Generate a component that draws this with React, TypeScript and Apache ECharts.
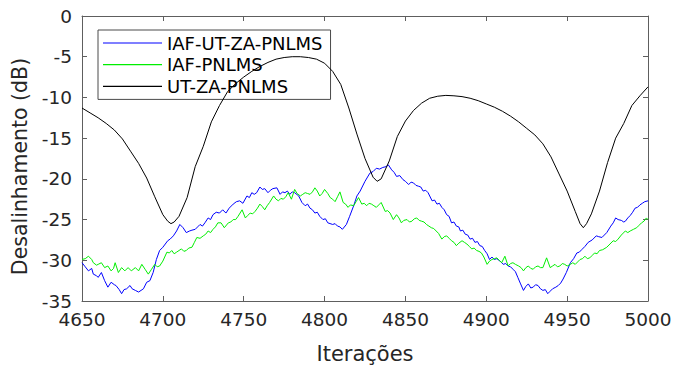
import React, { useEffect, useRef } from "react";
import * as echarts from "echarts";

const FONT = "DejaVu Sans";

const seriesNames = ["IAF-UT-ZA-PNLMS", "IAF-PNLMS", "UT-ZA-PNLMS"];
const xTickMin = 4650;
const xTickMax = 5000;
const xTickStep = 50;
const yTickMin = -35;
const yTickMax = 0;
const yTickStep = 5;

// IAF-UT-ZA-PNLMS (blue): [iteration, dB]
const iafUtZaPnlms: [number, number][] = [
  [4650, -30.3], [4652, -30.8], [4654, -31.3], [4656, -31.0], [4657, -31.7], [4659, -31.9],
  [4660, -32.1], [4662, -31.5], [4664, -32.5], [4666, -33.3], [4668, -32.7], [4670, -33.0],
  [4671, -33.1], [4673, -33.6], [4674.5, -34.1], [4676, -33.6], [4677.6, -33.5], [4679.7, -33.1],
  [4681, -33.5], [4683, -33.7], [4685, -33.9], [4686.5, -33.7], [4688, -33.5], [4690, -32.7],
  [4692, -32.5], [4694, -31.5], [4696, -29.9], [4698, -28.8], [4700, -28.4], [4701.5, -28.0],
  [4703, -27.6], [4704.5, -27.4], [4706.5, -27.0], [4708.5, -26.4], [4710.5, -25.6], [4712.5, -26.0],
  [4714.5, -26.6], [4716.5, -26.4], [4718, -26.3], [4720, -26.2], [4721.5, -25.9], [4723, -25.6],
  [4724.5, -25.8], [4726, -25.4], [4728, -24.8], [4729.5, -25.0], [4731, -24.4], [4733, -24.1],
  [4735, -24.2], [4737, -23.8], [4739, -24.2], [4741, -23.6], [4743.5, -23.1], [4745.5, -22.8],
  [4747.5, -22.7], [4749.5, -23.0], [4752, -22.1], [4753.5, -22.3], [4755, -21.7], [4756.5, -21.9],
  [4758, -21.7], [4760, -21.0], [4761.5, -21.3], [4763, -21.2], [4765, -21.7], [4766.5, -21.4],
  [4768, -21.2], [4770.5, -21.1], [4772.5, -21.9], [4774, -21.6], [4775.5, -21.7], [4777, -21.5],
  [4778.5, -21.9], [4780, -21.6], [4781.5, -21.7], [4784, -22.1], [4786, -22.9], [4788, -23.3],
  [4789.5, -23.1], [4791, -23.6], [4792.5, -23.8], [4794, -24.2], [4795.5, -24.1], [4797, -24.6],
  [4799, -25.0], [4800.5, -24.9], [4802, -25.4], [4805, -25.6], [4806.5, -25.5], [4808, -25.8],
  [4809.5, -25.9], [4811, -26.2], [4813.5, -25.6], [4815.5, -24.6], [4818, -23.3], [4820, -22.1],
  [4822, -21.5], [4825, -20.3], [4828, -19.3], [4830, -19.1], [4832, -18.7], [4834, -18.8],
  [4836, -18.6], [4838, -18.5], [4839.5, -18.3], [4841.5, -18.9], [4843, -19.2], [4844.5, -19.7],
  [4846.5, -19.6], [4848.5, -20.1], [4850, -20.3], [4852, -20.7], [4853.5, -20.4], [4855, -20.5],
  [4856.5, -20.8], [4858, -20.9], [4859.5, -21.0], [4861, -21.5], [4862.5, -21.4], [4864, -21.7],
  [4866.5, -22.7], [4868, -22.6], [4869.5, -23.1], [4871, -23.0], [4872.5, -23.5], [4874, -23.8],
  [4875.5, -24.4], [4877, -24.6], [4878.5, -25.4], [4880, -25.3], [4881.5, -25.8], [4883, -25.9],
  [4884, -26.4], [4885.5, -26.3], [4887, -26.8], [4888.5, -26.9], [4890, -27.4], [4891.5, -27.3],
  [4893, -27.8], [4894.5, -27.7], [4896, -28.2], [4897.5, -28.3], [4899, -28.8], [4900.5, -29.2],
  [4902, -29.9], [4903.5, -29.6], [4905, -29.9], [4906.5, -29.8], [4908.5, -30.1], [4910.5, -30.5],
  [4912, -30.4], [4913.5, -30.7], [4915, -30.8], [4916.5, -31.1], [4918, -31.4], [4919.5, -32.1],
  [4921, -32.8], [4923, -33.7], [4924.5, -33.2], [4926, -32.9], [4927.5, -33.4], [4929, -33.3],
  [4930.5, -33.0], [4932, -33.1], [4933.5, -33.5], [4935, -33.7], [4936.5, -33.6], [4938, -34.1],
  [4939.5, -33.8], [4941, -33.5], [4943, -33.3], [4944.5, -33.1], [4946, -32.8], [4947.5, -32.3],
  [4949.5, -31.5], [4952, -30.3], [4954, -29.8], [4956, -29.1], [4957.5, -29.0], [4959, -28.7],
  [4961, -28.3], [4963, -27.8], [4965.5, -27.5], [4968, -27.0], [4969.5, -27.1], [4971.5, -27.2],
  [4973, -26.9], [4974.5, -26.6], [4977, -25.8], [4978.5, -25.4], [4980, -24.8], [4981.5, -25.0],
  [4983.5, -25.1], [4985, -25.3], [4986, -25.2], [4987.5, -24.8], [4989, -24.5], [4990.5, -24.1],
  [4992, -23.6], [4993.5, -23.5], [4995, -23.2], [4996.5, -23.0], [4998, -22.8], [5000, -22.7],
];

// IAF-PNLMS (green): [iteration, dB]
const iafPnlms: [number, number][] = [
  [4650, -29.9], [4652, -29.8], [4654, -29.5], [4656, -29.9], [4657, -30.3], [4659, -30.6],
  [4660, -30.5], [4662, -30.3], [4664, -30.9], [4666, -30.7], [4668, -31.3], [4669.5, -31.0],
  [4670.5, -30.3], [4672.5, -31.5], [4674.5, -30.9], [4676.5, -31.3], [4678.5, -30.9], [4680.5, -31.3],
  [4683, -30.9], [4685, -31.3], [4687, -30.5], [4689, -31.1], [4691, -31.7], [4693, -31.1],
  [4695, -30.5], [4696.5, -30.8], [4698, -30.7], [4700, -30.1], [4702.5, -29.0], [4704, -29.1],
  [4705.5, -28.8], [4707, -29.2], [4708.5, -29.0], [4710, -28.8], [4711.5, -28.6], [4713, -28.9],
  [4714.5, -28.8], [4716, -28.5], [4718, -28.4], [4719.5, -27.8], [4721, -27.2], [4723, -27.3],
  [4725, -27.0], [4726.5, -26.8], [4728, -26.4], [4729.5, -26.6], [4731, -26.2], [4732.5, -25.9],
  [4734, -25.4], [4736, -25.4], [4738, -26.0], [4740.5, -25.4], [4742, -25.3], [4743.5, -25.0],
  [4745, -25.0], [4746.5, -24.6], [4749, -23.8], [4751, -24.8], [4752.5, -24.5], [4754, -24.2],
  [4755.5, -24.3], [4757, -24.0], [4758.5, -23.6], [4760, -23.1], [4761.5, -23.4], [4763, -23.8],
  [4764.5, -23.3], [4766, -22.9], [4768.5, -22.1], [4770, -22.5], [4771.5, -22.7], [4773, -22.4],
  [4774.5, -22.5], [4776, -22.2], [4777.5, -21.7], [4779.5, -22.5], [4781.5, -21.3], [4783, -21.8],
  [4785, -22.1], [4786.5, -21.9], [4788, -21.7], [4789.5, -21.8], [4791, -21.9], [4792.5, -21.6],
  [4794, -21.1], [4795.5, -21.5], [4797, -22.1], [4798.5, -21.8], [4800, -21.3], [4802, -21.8],
  [4803.5, -22.3], [4805, -22.5], [4806.5, -22.8], [4808, -22.2], [4809.5, -21.6], [4811.5, -22.9],
  [4813, -23.1], [4814.5, -23.5], [4816, -23.2], [4818, -23.3], [4819.5, -22.8], [4821, -22.3],
  [4823, -23.1], [4824.5, -23.0], [4826, -23.3], [4827.5, -23.0], [4829, -23.1], [4830.5, -23.3],
  [4832, -23.5], [4833.5, -23.2], [4835, -22.9], [4837.5, -24.0], [4839, -23.9], [4840.5, -24.2],
  [4842.5, -25.0], [4844.5, -24.4], [4846, -24.8], [4847.5, -25.4], [4849, -25.1], [4851, -25.0],
  [4852.5, -25.3], [4854, -25.2], [4855.5, -24.9], [4857, -24.8], [4858.5, -25.1], [4860, -25.2],
  [4861.5, -25.3], [4863, -25.6], [4864.5, -25.8], [4866, -26.0], [4867.5, -26.1], [4869, -26.4],
  [4870.5, -26.7], [4872.5, -27.4], [4874, -27.1], [4875.5, -27.0], [4877, -27.3], [4878.5, -27.6],
  [4880, -27.8], [4881.5, -28.2], [4883, -27.9], [4885, -27.6], [4886.5, -27.8], [4888, -28.0],
  [4889.5, -28.3], [4891, -28.6], [4892.5, -28.5], [4894, -28.8], [4895.5, -28.9], [4897, -29.1],
  [4898.5, -29.6], [4900.5, -30.5], [4902, -30.1], [4903.5, -29.9], [4905, -29.8], [4906.5, -29.7],
  [4908, -30.0], [4909.5, -30.3], [4911.5, -29.5], [4913.5, -30.7], [4915, -30.4], [4916.5, -30.3],
  [4918, -30.5], [4920, -30.7], [4921.5, -30.9], [4923, -31.3], [4924.5, -30.9], [4926, -30.7],
  [4927.5, -31.0], [4929, -31.1], [4930.5, -30.8], [4932, -30.7], [4933.5, -30.9], [4935, -30.9],
  [4937.3, -29.7], [4939.5, -30.9], [4941, -30.7], [4942.5, -30.5], [4944, -30.8], [4945.5, -30.7],
  [4947, -30.4], [4948.5, -30.5], [4950, -30.7], [4952, -30.5], [4953.5, -30.3], [4955, -30.5],
  [4956.5, -30.2], [4958, -29.9], [4959.5, -29.8], [4961, -29.5], [4962.5, -29.8], [4964, -29.7],
  [4965.5, -29.4], [4967, -29.1], [4968.5, -29.2], [4970, -28.8], [4972, -28.7], [4974.5, -28.4],
  [4976.5, -28.0], [4978.5, -27.6], [4980, -27.7], [4981.5, -27.4], [4983.5, -26.9], [4986, -26.4],
  [4987.5, -26.6], [4989, -26.4], [4991, -26.2], [4993, -26.0], [4994.5, -25.7], [4996, -25.4],
  [4997.5, -25.2], [4999, -24.8], [5000, -25.0],
];

// UT-ZA-PNLMS (black): [iteration, dB]
const utZaPnlms: [number, number][] = [
  [4650, -11.3], [4655, -11.9], [4660, -12.5], [4665, -13.2], [4670, -14.0], [4675, -15.1],
  [4680, -16.6], [4685, -18.1], [4690, -19.9], [4695, -22.2], [4700, -24.4], [4703, -25.2],
  [4705, -25.5], [4707, -25.3], [4710, -24.6], [4715, -22.3], [4720, -18.5], [4725, -16.0],
  [4730, -13.0], [4735, -11.0], [4740, -9.3], [4745, -8.3], [4750, -7.5], [4755, -6.8],
  [4760, -6.2], [4765, -5.7], [4770, -5.3], [4775, -5.1], [4780, -5.0], [4785, -5.0],
  [4790, -5.1], [4795, -5.3], [4800, -5.8], [4805, -6.8], [4810, -8.4], [4815, -11.3],
  [4820, -14.5], [4825, -17.5], [4830, -19.8], [4832.5, -20.3], [4835, -20.0], [4840, -17.8],
  [4845, -14.8], [4850, -12.9], [4855, -11.6], [4860, -10.7], [4865, -10.1], [4870, -9.85],
  [4875, -9.75], [4880, -9.8], [4885, -9.9], [4890, -10.1], [4895, -10.4], [4900, -10.8],
  [4905, -11.2], [4910, -11.7], [4915, -12.3], [4920, -13.0], [4925, -13.8], [4930, -14.6],
  [4935, -15.7], [4940, -17.3], [4945, -19.4], [4950, -21.5], [4955, -24.0], [4958, -25.5],
  [4960, -26.0], [4962, -25.5], [4965, -24.3], [4970, -21.5], [4975, -18.0], [4980, -15.0],
  [4985, -13.2], [4990, -11.0], [4995, -9.8], [5000, -8.7],
];

const seriesColors = ["#0000ff", "#00ee00", "#000000"];

export default function App() {
  const ref = useRef<HTMLDivElement>(null);
  useEffect(() => {
    if (!ref.current) return;
    const chart = echarts.init(ref.current, undefined, { renderer: "svg" });
    const axisLineColor = "#5e5e5e";
    const labelColor = "#262626";
    const commonX = {
      type: "value" as const,
      min: xTickMin,
      max: xTickMax,
      interval: xTickStep,
      splitLine: { show: false },
      axisLine: { show: true, onZero: false, lineStyle: { color: axisLineColor, width: 1 } },
      axisTick: { show: true, inside: true, length: 5, lineStyle: { color: axisLineColor } },
    };
    const commonY = {
      type: "value" as const,
      min: yTickMin,
      max: yTickMax,
      interval: yTickStep,
      splitLine: { show: false },
      axisLine: { show: true, onZero: false, lineStyle: { color: axisLineColor, width: 1 } },
      axisTick: { show: true, inside: true, length: 5, lineStyle: { color: axisLineColor } },
    };
    const datasets = [iafUtZaPnlms, iafPnlms, utZaPnlms];
    chart.setOption({
      animation: false,
      backgroundColor: "#ffffff",
      grid: { left: 82, right: 27, top: 16, bottom: 56, containLabel: false },
      xAxis: [
        {
          ...commonX,
          position: "bottom",
          name: "Iterações",
          nameLocation: "middle",
          nameGap: 42,
          nameTextStyle: { fontFamily: FONT, fontSize: 21, color: labelColor },
          axisLabel: {
            fontFamily: FONT,
            fontSize: 18.5,
            color: labelColor,
            margin: 9,
            formatter: (v: number) => String(v),
          },
        },
        { ...commonX, position: "top", axisLabel: { show: false } },
      ],
      yAxis: [
        {
          ...commonY,
          position: "left",
          name: "Desalinhamento (dB)",
          nameLocation: "middle",
          nameGap: 47,
          nameTextStyle: { fontFamily: FONT, fontSize: 20.5, color: labelColor, padding: [0, 16, 0, 0] },
          axisLabel: { fontFamily: FONT, fontSize: 18.5, color: labelColor, margin: 10 },
        },
        { ...commonY, position: "right", axisLabel: { show: false } },
      ],
      legend: {
        orient: "vertical",
        left: 98,
        top: 30,
        padding: [3, 8, 3, 5],
        itemGap: 1.7,
        itemWidth: 59,
        itemHeight: 1.2,
        icon: "rect",
        selectedMode: false,
        backgroundColor: "#ffffff",
        borderColor: "#4a4a4a",
        borderWidth: 1,
        textStyle: { fontFamily: FONT, fontSize: 18, color: "#000000", lineHeight: 20 },
        data: seriesNames,
      },
      series: seriesNames.map((name, i) => ({
        name,
        type: "line",
        data: datasets[i],
        xAxisIndex: 0,
        yAxisIndex: 0,
        showSymbol: false,
        symbol: "none",
        lineStyle: { color: seriesColors[i], width: 1 },
        itemStyle: { color: seriesColors[i] },
        z: 2 + i,
      })),
    });
    return () => chart.dispose();
  }, []);
  return <div ref={ref} style={{ width: 675, height: 369, position: "absolute", left: 0, top: 0 }} />;
}
